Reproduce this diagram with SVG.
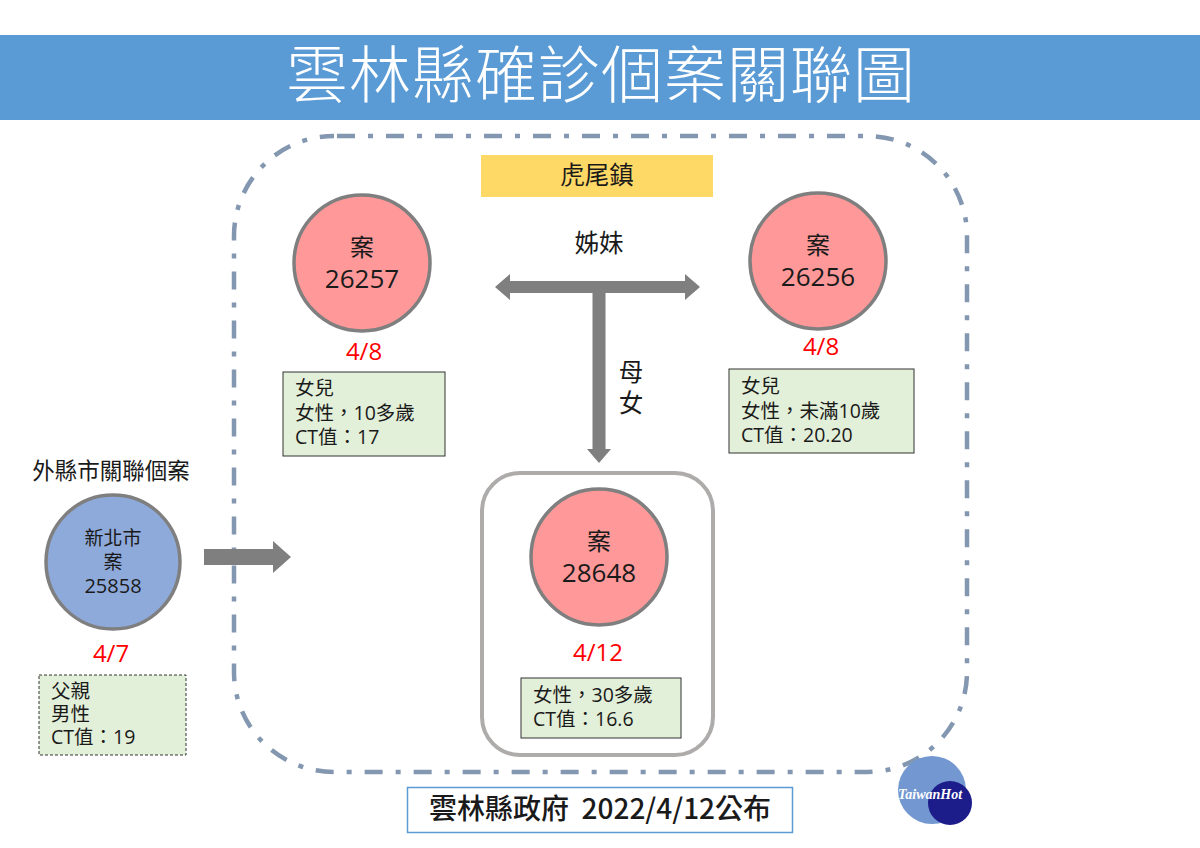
<svg xmlns="http://www.w3.org/2000/svg" width="1200" height="848" viewBox="0 0 1200 848">
<style>
text{font-family:"Open Sans","Noto Sans CJK TC",sans-serif;fill:#1a1a1a;font-weight:400}
.m{text-anchor:middle}
.c{stroke:#7f7f7f;stroke-width:3.5}
.p{fill:#ff9999}
.t1{font-size:24px}
.t2{font-size:26px}
.d{font-size:24px;fill:#ff0000;text-anchor:middle}
.i{fill:#e2efd9;stroke:#333;stroke-width:1}
.l{font-size:19.500px}
.a{fill:#7f7f7f}
.b{font-size:24.500px}
</style>
<rect width="1200" height="848" fill="#fff"/>
<g id="header"><rect x="0" y="35" width="1200" height="85" fill="#5b9bd5"/>
<text x="601" y="98" class="m" style="font-size:62px;fill:#fff;letter-spacing:1px;font-weight:300">雲林縣確診個案關聯圖</text></g>
<g id="region"><rect x="234" y="136" width="733" height="636" rx="100" ry="100" fill="none" stroke="#8497b0" stroke-width="4.500" stroke-dasharray="18 13 5 13" stroke-dashoffset="-3"/></g>
<g id="location"><rect x="481" y="155" width="232" height="42" fill="#ffd966"/><text x="597" y="184" class="m b">虎尾鎮</text></g>
<g id="connectors">
<path class="a" d="M495 287L510 274V281H685V274L700 287L685 300V293H510V300Z"/>
<path class="a" d="M592.500 292H605.500V449H611L599 463L587 449H592.500Z"/>
<path class="a" d="M204 549H273V541L291 557L273 573V565H204Z"/>
</g>
<text x="599" y="252" class="m b">姊妹</text>
<text x="631" y="381" class="m b">母</text>
<text x="631" y="412" class="m b">女</text>
<g id="case-26257"><circle class="c p" cx="362" cy="263" r="68"/><text x="362" y="256" class="m t1">案</text><text x="362" y="288" class="m t2">26257</text>
<text x="364" y="360" class="d">4/8</text>
<rect class="i" x="283" y="372" width="162" height="84"/><text x="295" y="395" class="l">女兒</text><text x="295" y="420" class="l">女性，10多歲</text><text x="295" y="444" class="l">CT值：17</text></g>
<g id="case-26256"><circle class="c p" cx="818" cy="261" r="68"/><text x="818" y="254" class="m t1">案</text><text x="818" y="286" class="m t2">26256</text>
<text x="821" y="355" class="d">4/8</text>
<rect class="i" x="729" y="369" width="185" height="84"/><text x="741" y="393" class="l">女兒</text><text x="741" y="418" class="l">女性，未滿10歲</text><text x="741" y="442" class="l">CT值：20.20</text></g>
<g id="case-28648"><rect x="482" y="473" width="231" height="282" rx="38" ry="38" fill="none" stroke="#aeabab" stroke-width="4"/>
<circle class="c p" cx="599" cy="557" r="68"/><text x="599" y="550" class="m t1">案</text><text x="599" y="582" class="m t2">28648</text>
<text x="598" y="661" class="d">4/12</text>
<rect class="i" x="521" y="678" width="160" height="60"/><text x="533" y="702" class="l">女性，30多歲</text><text x="533" y="726" class="l">CT值：16.6</text></g>
<g id="case-25858"><text x="111" y="479" class="m" style="font-size:22.500px">外縣市關聯個案</text>
<circle cx="113" cy="562" r="67" fill="#8eaadb" stroke="#7f7f7f" stroke-width="3.500"/>
<text x="113" y="545" class="m" style="font-size:19px">新北市</text><text x="113" y="569" class="m" style="font-size:19px">案</text><text x="113" y="593" class="m" style="font-size:20px">25858</text>
<text x="111" y="662" class="d">4/7</text>
<rect x="39" y="675" width="147" height="80" fill="#e2efd9" stroke="#333" stroke-width="1" stroke-dasharray="3 2"/>
<text x="51" y="698" class="l">父親</text><text x="51" y="721" class="l">男性</text><text x="51" y="744" class="l">CT值：19</text></g>
<g id="footer"><rect x="407.500" y="787.500" width="385" height="45" fill="#fff" stroke="#5b9bd5" stroke-width="1.500"/>
<text x="600" y="819" class="m" xml:space="preserve" style="font-family:'Noto Sans CJK TC',sans-serif;font-size:28px;font-weight:500;white-space:pre">雲林縣政府  2022/4/12公布</text></g>
<g id="logo"><circle cx="932" cy="790" r="34" fill="#7397d0"/><circle cx="950" cy="803" r="22" fill="#1c1c8a"/>
<text x="930" y="799" class="m" style="font-family:'Liberation Serif',serif;font-size:14px;font-style:italic;font-weight:700;fill:#fff">TaiwanHot</text></g>
</svg>
